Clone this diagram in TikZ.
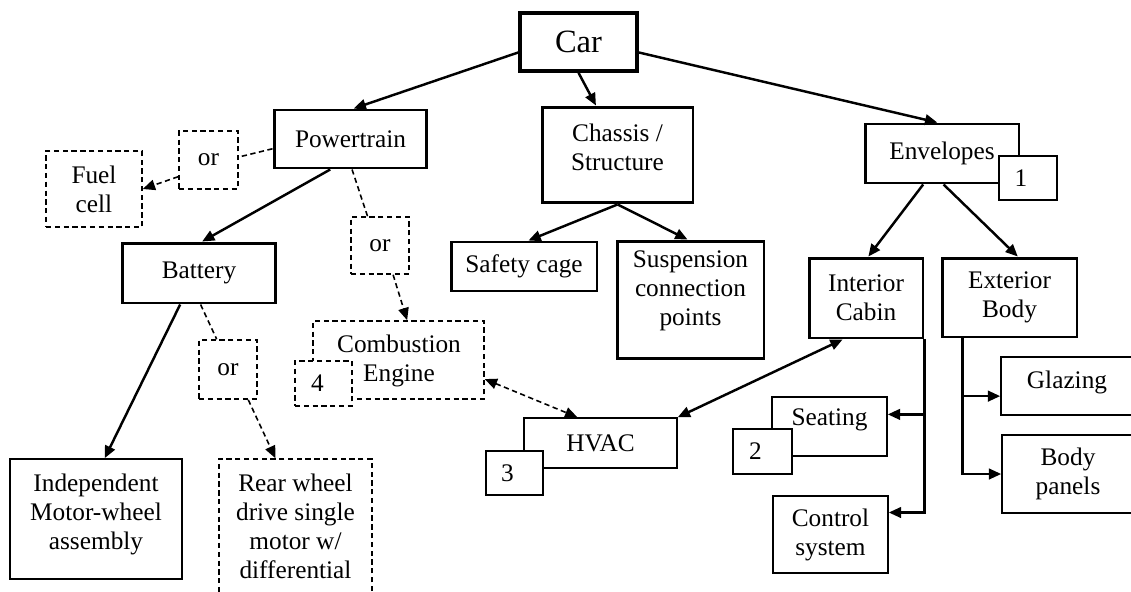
\documentclass[tikz,border=0pt]{standalone}
\usepackage{fontspec}
\setmainfont{Liberation Serif}
\usetikzlibrary{arrows.meta,calc}
\begin{document}
\begin{tikzpicture}[x=0.02cm,y=-0.02cm,
  every node/.style={font=\fontsize{14.4}{16.5}\selectfont, align=center},
  sz/.style 2 args={minimum width=#1*0.2mm, minimum height=#2*0.2mm},
  base/.style={inner sep=0pt, draw=black},
  thickbox/.style={base, line width=1.7pt},
  thinbox/.style={base, line width=0.9pt},
  dashbox/.style={base, line width=0.9pt, dash pattern=on 3pt off 2pt},
  badge/.style={thinbox, fill=white},
  dbadge/.style={dashbox, fill=white},
  txt/.style={inner sep=0pt},
  arr/.style={-{Triangle[length=7pt,width=6pt]}},
  both/.style={{Triangle[length=7pt,width=6pt]}-{Triangle[length=7pt,width=6pt]}},
  conn/.style={line width=1.4pt, arr},
  dconn/.style={line width=0.9pt, dash pattern=on 3pt off 2pt, arr},
  tree/.style={line width=1.4pt, arr},
]
\useasboundingbox (0,0) rectangle (1131,591);
\clip (0,0) rectangle (1131,591);

% boxes
\node[thickbox, line width=2pt, sz={117}{58}, font=\fontsize{18.5}{20}\selectfont] (car) at (578.5,42) {Car};
\node[thickbox, sz={153}{58}] (pt) at (350.5,139) {Powertrain};
\node[thickbox, sz={151}{96}] (ch) at (617.5,155) {};
\node[txt] (chT) at (617.5,147) {Chassis /\\Structure};
\node[thickbox, sz={154}{59}] (env) at (942,153.5) {Envelopes};
\node[dashbox, sz={59}{58}] (or1) at (208.5,160) {or};
\node[dashbox, sz={96}{76}] (fuel) at (94,189) {Fuel\\cell};
\node[thickbox, sz={154}{60}] (bat) at (199,273) {Battery};
\node[dashbox, sz={58}{57}] (or2) at (380,245.5) {or};
\node[thickbox, sz={146}{49}] (safe) at (524,266.5) {Safety cage};
\node[thickbox, sz={147}{118}] (susp) at (690.5,300) {};
\node[txt] (suspT) at (690.5,291) {Suspension\\connection\\points};
\node[thickbox, sz={114}{80}] (ic) at (866,298) {Interior\\Cabin};
\node[thickbox, sz={135}{79}] (ext) at (1009.5,297.5) {Exterior\\Body};
\node[thinbox, sz={149}{58}] (gl) at (1075.5,386) {};
\node[txt] (glT) at (1067,382) {Glazing};
\node[thinbox, sz={148}{78}] (bp) at (1076,474) {};
\node[txt] (bpT) at (1068,474) {Body\\panels};
\node[thinbox, sz={115}{59}] (seat) at (829.5,426.5) {};
\node[txt] (seatT) at (829.5,420) {Seating};
\node[thinbox, sz={115}{77}] (ctl) at (830.5,534.5) {Control\\system};
\node[thinbox, sz={153}{50}] (hvac) at (600.5,443) {HVAC};
\node[dashbox, sz={171}{78}] (comb) at (398.5,360) {};
\node[txt] (combT) at (399,361) {Combustion\\Engine};
\node[dashbox, sz={58}{59}] (or3) at (228,369.5) {or};
\node[thinbox, sz={172}{120}] (ind) at (96,519) {};
\node[txt] (indT) at (96,514) {Independent\\Motor-wheel\\assembly};
\node[dashbox, sz={153}{146}] (rear) at (295.5,532) {};
\node[txt] (rearT) at (295.5,526) {Rear wheel\\drive single\\motor w/\\differential};

% badges
\node[badge, sz={58}{44}] (b1) at (1028,178) {\hspace*{-8pt}1};
\node[badge, sz={59}{45}] (b2) at (762.5,451.5) {\hspace*{-8pt}2};
\node[badge, sz={57}{44}] (b3) at (514.5,473) {\hspace*{-8pt}3};
\node[dbadge, sz={57}{45}] (b4) at (323.5,383.5) {\hspace*{-7pt}4};

% connectors
\draw[conn] ($(car.north west)!0.67!(car.south west)$) -- ($(pt.north west)!0.52!(pt.north east)$);
\draw[conn] (car.south) -- ($(ch.north west)!0.36!(ch.north east)$);
\draw[conn] ($(car.north east)!0.67!(car.south east)$) -- ($(env.north west)!0.47!(env.north east)$);
\draw[dconn,-] ($(pt.north west)!0.66!(pt.south west)$) -- ($(or1.north east)!0.45!(or1.south east)$);
\draw[dconn] ($(or1.north west)!0.78!(or1.south west)$) -- (fuel.east);
\draw[conn] ($(pt.south west)!0.37!(pt.south east)$) -- ($(bat.north west)!0.52!(bat.north east)$);
\draw[dconn,-] ($(pt.south west)!0.51!(pt.south east)$) -- ($(or2.north west)!0.29!(or2.north east)$);
\draw[dconn] ($(or2.south west)!0.72!(or2.south east)$) -- ($(comb.north west)!0.55!(comb.north east)$);
\draw[dconn,-] ($(bat.south west)!0.51!(bat.south east)$) -- ($(or3.north west)!0.31!(or3.north east)$);
\draw[dconn] ($(or3.south west)!0.84!(or3.south east)$) -- ($(rear.north west)!0.37!(rear.north east)$);
\draw[conn] ($(bat.south west)!0.38!(bat.south east)$) -- ($(ind.north west)!0.55!(ind.north east)$);
\draw[conn] (ch.south) -- ($(safe.north west)!0.53!(safe.north east)$);
\draw[conn] (ch.south) -- ($(susp.north west)!0.48!(susp.north east)$);
\draw[conn] ($(env.south west)!0.38!(env.south east)$) -- ($(ic.north west)!0.52!(ic.north east)$);
\draw[conn] ($(env.south west)!0.51!(env.south east)$) -- ($(ext.north west)!0.56!(ext.north east)$);
\draw[dconn,both] ($(comb.north east)!0.74!(comb.south east)$) -- ($(hvac.north west)!0.35!(hvac.north east)$);
\draw[conn,both] (hvac.north east) -- ($(ic.south west)!0.30!(ic.south east)$);

% interior tree
\coordinate (sp) at ($(seat.north east)!0.3!(seat.south east)$);
\coordinate (cp) at ($(ctl.north east)!0.22!(ctl.south east)$);
\draw[tree] (ic.south east) |- (cp);
\draw[tree] (ic.south east |- sp) -- (sp);

% exterior tree
\coordinate (eb) at ($(ext.south west)!0.16!(ext.south east)$);
\coordinate (gp) at ($(gl.north west)!0.67!(gl.south west)$);
\draw[tree] (eb) |- (bp.west);
\draw[tree] (eb |- gp) -- (gp);
\end{tikzpicture}
\end{document}
